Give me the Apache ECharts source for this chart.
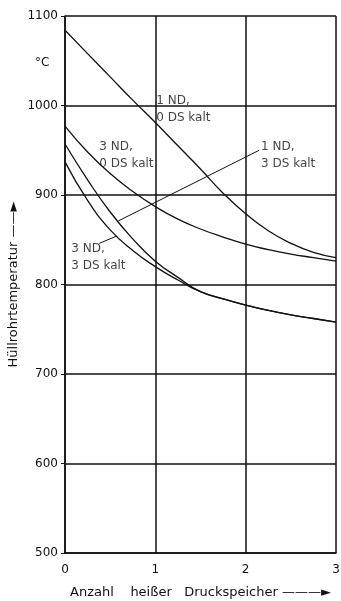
<html>

<head>
  <script src="https://cdnjs.cloudflare.com/ajax/libs/echarts/6.0.0/echarts.min.js"></script>
</head>

<body style="margin:0;background:#fff">
  <div id="main" style="width: 341px;height:601px;"></div>
  <script>
    // x = Anzahl heißer Druckspeicher
    const xValues = [0, 0.25, 0.5, 0.75, 1, 1.25, 1.5, 1.75, 2, 2.25, 2.5, 2.75, 3];
    const nd1ds0 = [1084, 1058, 1032, 1006, 981, 955, 929, 902, 879, 860, 846, 836, 830];
    const nd3ds0 = [977, 948, 924, 904, 887, 873, 862, 853, 845, 839, 834, 830, 826];
    const nd1ds3 = [957, 917, 881, 851, 826, 808, 792, 784, 777, 771, 766, 762, 758];
    const nd3ds3 = [937, 894, 861, 838, 820, 805, 792, 784, 777, 771, 766, 762, 758];

    // label anchors (top-left) in data units
    const labelNames = ['1 ND,\n0 DS kalt', '3 ND,\n0 DS kalt', '1 ND,\n3 DS kalt', '3 ND,\n3 DS kalt'];
    const labelX = [1.01, 0.38, 2.17, 0.07];
    const labelY = [1015, 963, 963, 849];

    // leader lines from labels to curves
    const pointer1 = [[2.15, 950], [0.59, 871]];
    const pointer2 = [[0.38, 846], [0.57, 854]];

    var myChart = echarts.init(document.getElementById('main'));

    const ink = '#111';
    const font = 'DejaVu Sans';

    function curve(name, vals) {
      return {
        name: name,
        type: 'line',
        smooth: 0.5,
        symbol: 'none',
        lineStyle: { color: ink, width: 1.3 },
        data: xValues.map((x, i) => [x, vals[i]]),
        z: 3
      };
    }

    function leader(pts) {
      return {
        type: 'line',
        symbol: 'none',
        lineStyle: { color: ink, width: 1 },
        data: pts,
        z: 3
      };
    }

    option = {
      animation: false,
      backgroundColor: '#fff',
      textStyle: { fontFamily: font, color: ink },
      grid: {
        left: 65,
        right: 5,
        top: 16,
        bottom: 48,
        containLabel: false,
        outerBoundsMode: 'none'
      },
      graphic: [{
        type: 'text',
        left: 35,
        top: 57,
        style: { text: '°C', font: '12px DejaVu Sans', fill: ink }
      }],
      xAxis: {
        type: 'value',
        min: 0,
        max: 3,
        interval: 1,
        name: 'Anzahl    heißer   Druckspeicher ———►',
        nameLocation: 'middle',
        nameGap: 33,
        nameMoveOverlap: false,
        nameTextStyle: { fontSize: 13, color: ink, fontFamily: font },
        axisLine: { lineStyle: { color: ink, width: 1.5 } },
        axisTick: { show: false },
        axisLabel: { fontSize: 12, color: ink, margin: 11, fontFamily: font },
        splitLine: { show: true, lineStyle: { color: ink, width: 1.5 } }
      },
      yAxis: {
        type: 'value',
        min: 500,
        max: 1100,
        interval: 100,
        name: 'Hüllrohrtemperatur ——►',
        nameLocation: 'middle',
        nameGap: 45,
        nameMoveOverlap: false,
        nameTextStyle: { fontSize: 13, color: ink, fontFamily: font },
        axisLine: { show: true, lineStyle: { color: ink, width: 1.5 } },
        axisTick: { show: true, length: 4, lineStyle: { color: ink } },
        axisLabel: { fontSize: 12, color: ink, margin: 7, fontFamily: font, formatter: v => String(v) },
        splitLine: { show: true, lineStyle: { color: ink, width: 1.5 } }
      },
      series: [
        curve('1 ND, 0 DS kalt', nd1ds0),
        curve('3 ND, 0 DS kalt', nd3ds0),
        curve('1 ND, 3 DS kalt', nd1ds3),
        curve('3 ND, 3 DS kalt', nd3ds3),
        leader(pointer1),
        leader(pointer2),
        {
          type: 'scatter',
          symbolSize: 0,
          data: labelX.map((x, i) => [x, labelY[i], labelNames[i]]),
          label: {
            show: true,
            position: [0, 0],
            align: 'left',
            verticalAlign: 'top',
            formatter: p => p.data[2],
            fontSize: 12,
            lineHeight: 17,
            color: ink,
            fontFamily: font
          },
          z: 5
        }
      ]
    };

    myChart.setOption(option);

  </script>
</body>

</html>
